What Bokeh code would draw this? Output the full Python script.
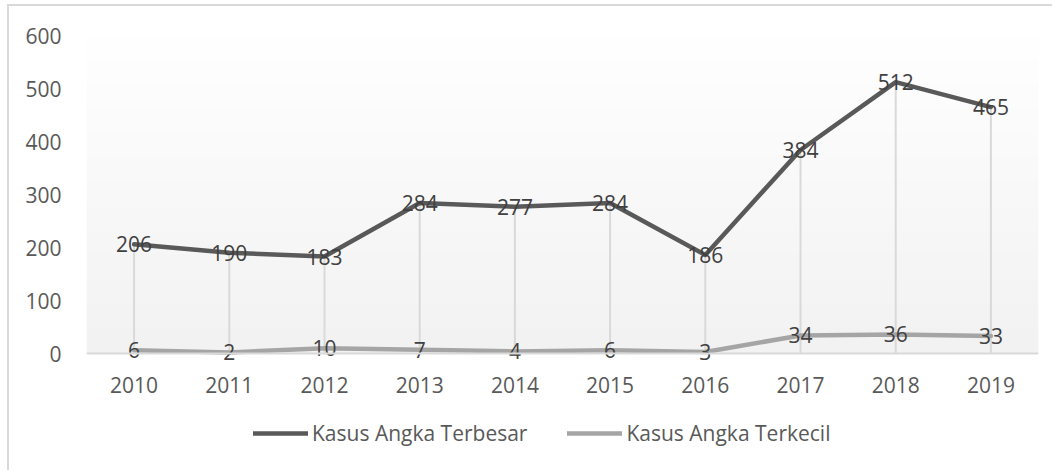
import numpy as np
from bokeh.plotting import figure
from bokeh.models import ColumnDataSource, FixedTicker, Legend, LegendItem, Range1d, Span
from bokeh.core.properties import value
from bokeh.embed import file_html
from bokeh.resources import INLINE

years = ["2010", "2011", "2012", "2013", "2014", "2015", "2016", "2017", "2018", "2019"]
terbesar = [206, 190, 183, 284, 277, 284, 186, 384, 512, 465]
terkecil = [6, 2, 10, 7, 4, 6, 3, 34, 36, 33]
series_names = ["Kasus Angka Terbesar", "Kasus Angka Terkecil"]
y_ticks = [0, 100, 200, 300, 400, 500, 600]

FONT = "Open Sans"
FS = "21px"

x = list(range(len(years)))
src = ColumnDataSource(dict(
    x=x,
    big=terbesar,
    small=terkecil,
    top=list(np.maximum(terbesar, terkecil)),
    bottom=[0] * len(x),
    big_lbl=[str(v) for v in terbesar],
    small_lbl=[str(v) for v in terkecil],
))

p = figure(
    frame_width=952, frame_height=415,
    min_border_left=77, min_border_top=29, min_border_right=14, min_border_bottom=20,
    x_range=Range1d(-0.5, len(years) - 0.5), y_range=Range1d(-183, 600),
    x_axis_location="above",
    output_backend="svg", toolbar_location=None,
)
p.styles = {"border-top": "2px solid #d9d9d9", "border-left": "2px solid #d9d9d9",
            "margin-left": "7px", "margin-top": "4px"}
p.outline_line_color = None
p.xgrid.visible = False
p.ygrid.visible = False
p.background_fill_color = "white"

# gradient plot-area background (white at top -> light gray at bottom)
n = 200
shade = np.linspace(242, 255, n).astype(np.uint32)
img = np.empty((n, 1), dtype=np.uint32)
view = img.view(dtype=np.uint8).reshape((n, 1, 4))
view[:, 0, 0] = shade
view[:, 0, 1] = shade
view[:, 0, 2] = shade
view[:, 0, 3] = 255
p.image_rgba(image=[img], x=-0.5, y=0, dw=len(years), dh=600)

# baseline
p.add_layout(Span(location=0, dimension="width", line_color="#d9d9d9", line_width=2))

# drop lines
p.segment(x0="x", y0="bottom", x1="x", y1="top", source=src, line_color="#d9d9d9", line_width=2)

r1 = p.line("x", "big", source=src, line_color="#595959", line_width=4.5, line_join="round", line_cap="round")
r2 = p.line("x", "small", source=src, line_color="#a5a5a5", line_width=4.5, line_join="round", line_cap="round")

for col, ycol in (("big_lbl", "big"), ("small_lbl", "small")):
    p.text(x="x", y=ycol, text=col, source=src, text_align="center", text_baseline="middle",
           text_font=value(FONT), text_font_size=FS, text_color="#404040")

# axes
p.xaxis.ticker = FixedTicker(ticks=x)
p.xaxis.major_label_overrides = {i: y for i, y in enumerate(years)}
p.xaxis.fixed_location = -89.5
p.yaxis.ticker = FixedTicker(ticks=y_ticks)
for ax in (p.xaxis[0], p.yaxis[0]):
    ax.major_tick_line_color = None
    ax.minor_tick_line_color = None
    ax.axis_line_color = None
    ax.major_label_text_font = FONT
    ax.major_label_text_font_size = FS
    ax.major_label_text_color = "#595959"
p.xaxis.major_label_standoff = 2
p.yaxis.major_label_standoff = 19

legend = Legend(
    items=[LegendItem(label=series_names[0], renderers=[r1]),
           LegendItem(label=series_names[1], renderers=[r2])],
    orientation="horizontal", location=(167, 3),
    label_text_font=FONT, label_text_font_size=FS, label_text_color="#595959",
    glyph_width=55, glyph_height=22, label_standoff=4, spacing=40,
    padding=0, margin=0, border_line_color=None, background_fill_alpha=0,
)
p.add_layout(legend, "center")

open("out.html", "w").write(file_html(p, INLINE))
